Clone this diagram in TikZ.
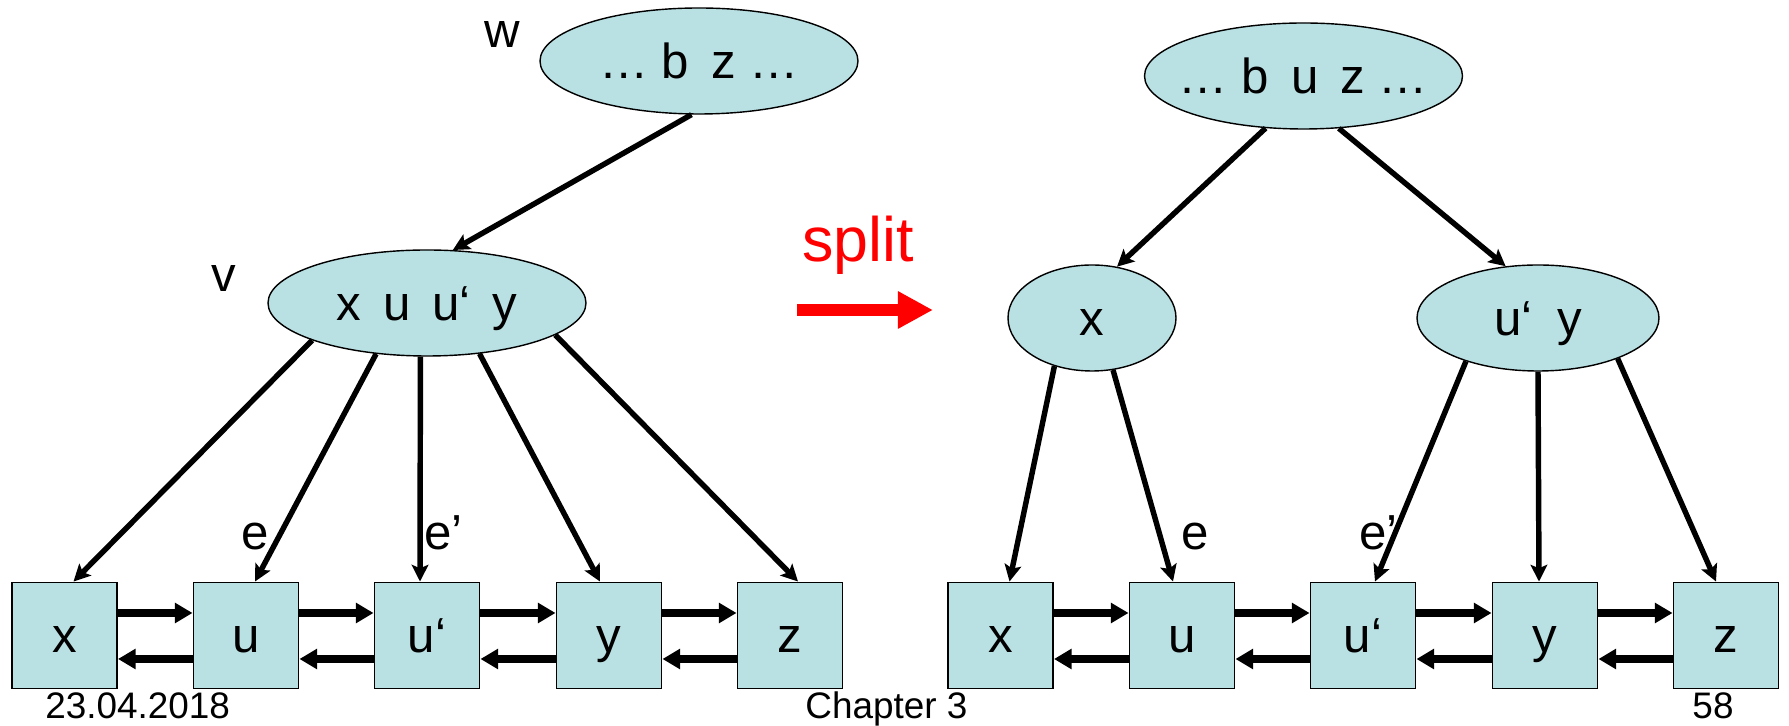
\documentclass[tikz,border=0pt]{standalone}
\usepackage{fontspec}
\setmainfont{Liberation Sans}
\usepackage{tikz}
\usetikzlibrary{arrows.meta,shapes.geometric}
\definecolor{nodebg}{RGB}{185,224,227}
\newcommand{\gp}{\hspace{.45em}}

\begin{document}
\begin{tikzpicture}[font=\fontsize{28}{34}\selectfont,
  nd/.style={ellipse, draw, line width=0.8pt, fill=nodebg, minimum height=2.12cm, inner sep=0pt, text height=0.7cm, text depth=0pt},
  bx/.style={rectangle, draw, line width=1.1pt, fill=nodebg, minimum width=2.1cm, minimum height=2.12cm, inner sep=0pt, text height=0.7cm, text depth=0pt},
  ed/.style={line width=3.1pt, -{Stealth[length=9.5pt, width=9.5pt, inset=2pt]}},
  ln/.style={line width=4pt, -{Triangle[length=10pt, width=11pt]}},
  lb/.style={inner sep=0pt, anchor=base},
  ft/.style={inner sep=0pt, anchor=base, font=\fontsize{21}{25}\selectfont}]
  \useasboundingbox (0,0) rectangle (35.78,14.52);
  % before the split
  \node[nd, minimum width=6.36cm] (w) at (13.98,13.30) {… b\gp z …};
  \node[nd, minimum width=6.36cm] (v) at (8.54,8.46) {x\gp u\gp u‘\gp y};
  \node[lb] (wl) at (10.04,13.56) {w};
  \node[lb] (vl) at (4.48,8.68) {v};
  \node[bx] (lx) at (1.29,1.81) {x};
  \node[bx] (lu) at (4.92,1.81) {u};
  \node[bx] (lu1) at (8.54,1.81) {u‘};
  \node[bx] (ly) at (12.18,1.81) {y};
  \node[bx] (lz) at (15.80,1.81) {z};
  \draw[ed] (w.262) -- (v.64);
  \draw[ed] (v.198) -- ([xshift=0.18cm]lx.north); \draw[ed] (v.225) -- ([xshift=0.18cm]lu.north);
  \draw[ed] (v.263) -- ([xshift=-0.14cm]lu1.north); \draw[ed] (v.316) -- ([xshift=-0.18cm]ly.north);
  \draw[ed] (v.346) -- ([xshift=0.16cm]lz.north);
  \node[lb, anchor=base west] (le) at (4.82,3.52) {e};
  \node[lb, anchor=base west] (le1) at (8.48,3.52) {e’};
  \draw[ln] ([yshift=0.45cm]lx.east) -- ([yshift=0.45cm]lu.west); \draw[ln] ([yshift=-0.47cm]lu.west) -- ([yshift=-0.47cm]lx.east);
  \draw[ln] ([yshift=0.45cm]lu.east) -- ([yshift=0.45cm]lu1.west); \draw[ln] ([yshift=-0.47cm]lu1.west) -- ([yshift=-0.47cm]lu.east);
  \draw[ln] ([yshift=0.45cm]lu1.east) -- ([yshift=0.45cm]ly.west); \draw[ln] ([yshift=-0.47cm]ly.west) -- ([yshift=-0.47cm]lu1.east);
  \draw[ln] ([yshift=0.45cm]ly.east) -- ([yshift=0.45cm]lz.west); \draw[ln] ([yshift=-0.47cm]lz.west) -- ([yshift=-0.47cm]ly.east);
  % split arrow
  \node[lb, text=red, font=\fontsize{35.7}{40}\selectfont] (sp) at (17.16,9.28) {split};
  \coordinate (sa) at (15.94,8.32);
  \coordinate (sb) at (18.66,8.32);
  \draw[red, line width=6.8pt, -{Triangle[length=20pt, width=20pt]}] (sa) -- (sb);
  % after the split
  \node[nd, minimum width=6.36cm, inner xsep=-0.4cm] (top2) at (26.07,13.00) {… b\gp u\gp z …};
  \node[nd, minimum width=3.36cm] (x2) at (21.84,8.16) {x};
  \node[nd, minimum width=4.84cm] (uy2) at (30.76,8.16) {u‘\hspace{.5em}y};
  \node[bx] (rx) at (20.01,1.81) {x};
  \node[bx] (ru) at (23.64,1.81) {u};
  \node[bx] (ru1) at (27.26,1.81) {u‘};
  \node[bx] (ry) at (30.90,1.81) {y};
  \node[bx] (rz) at (34.52,1.81) {z};
  \draw[ed] (top2.234) -- (x2.64); \draw[ed] (top2.304.5) -- (uy2.122);
  \draw[ed] (x2.232.5) -- ([xshift=0.18cm]rx.north); \draw[ed] (x2.292.5) -- ([xshift=-0.18cm]ru.north);
  \draw[ed] (uy2.211) -- ([xshift=0.24cm]ru1.north); \draw[ed] (uy2.270) -- ([xshift=-0.12cm]ry.north);
  \draw[ed] (uy2.333) -- ([xshift=-0.20cm]rz.north);
  \node[lb, anchor=base west] (re) at (23.62,3.52) {e};
  \node[lb, anchor=base west] (re1) at (27.18,3.52) {e’};
  \draw[ln] ([yshift=0.45cm]rx.east) -- ([yshift=0.45cm]ru.west); \draw[ln] ([yshift=-0.47cm]ru.west) -- ([yshift=-0.47cm]rx.east);
  \draw[ln] ([yshift=0.45cm]ru.east) -- ([yshift=0.45cm]ru1.west); \draw[ln] ([yshift=-0.47cm]ru1.west) -- ([yshift=-0.47cm]ru.east);
  \draw[ln] ([yshift=0.45cm]ru1.east) -- ([yshift=0.45cm]ry.west); \draw[ln] ([yshift=-0.47cm]ry.west) -- ([yshift=-0.47cm]ru1.east);
  \draw[ln] ([yshift=0.45cm]ry.east) -- ([yshift=0.45cm]rz.west); \draw[ln] ([yshift=-0.47cm]rz.west) -- ([yshift=-0.47cm]ry.east);
  % footer
  \node[ft, anchor=base west] (date) at (0.90,0.14) {23.04.2018};
  \node[ft] (chap) at (17.73,0.14) {Chapter 3};
  \node[ft] (page) at (34.26,0.14) {58};
\end{tikzpicture}
\end{document}
